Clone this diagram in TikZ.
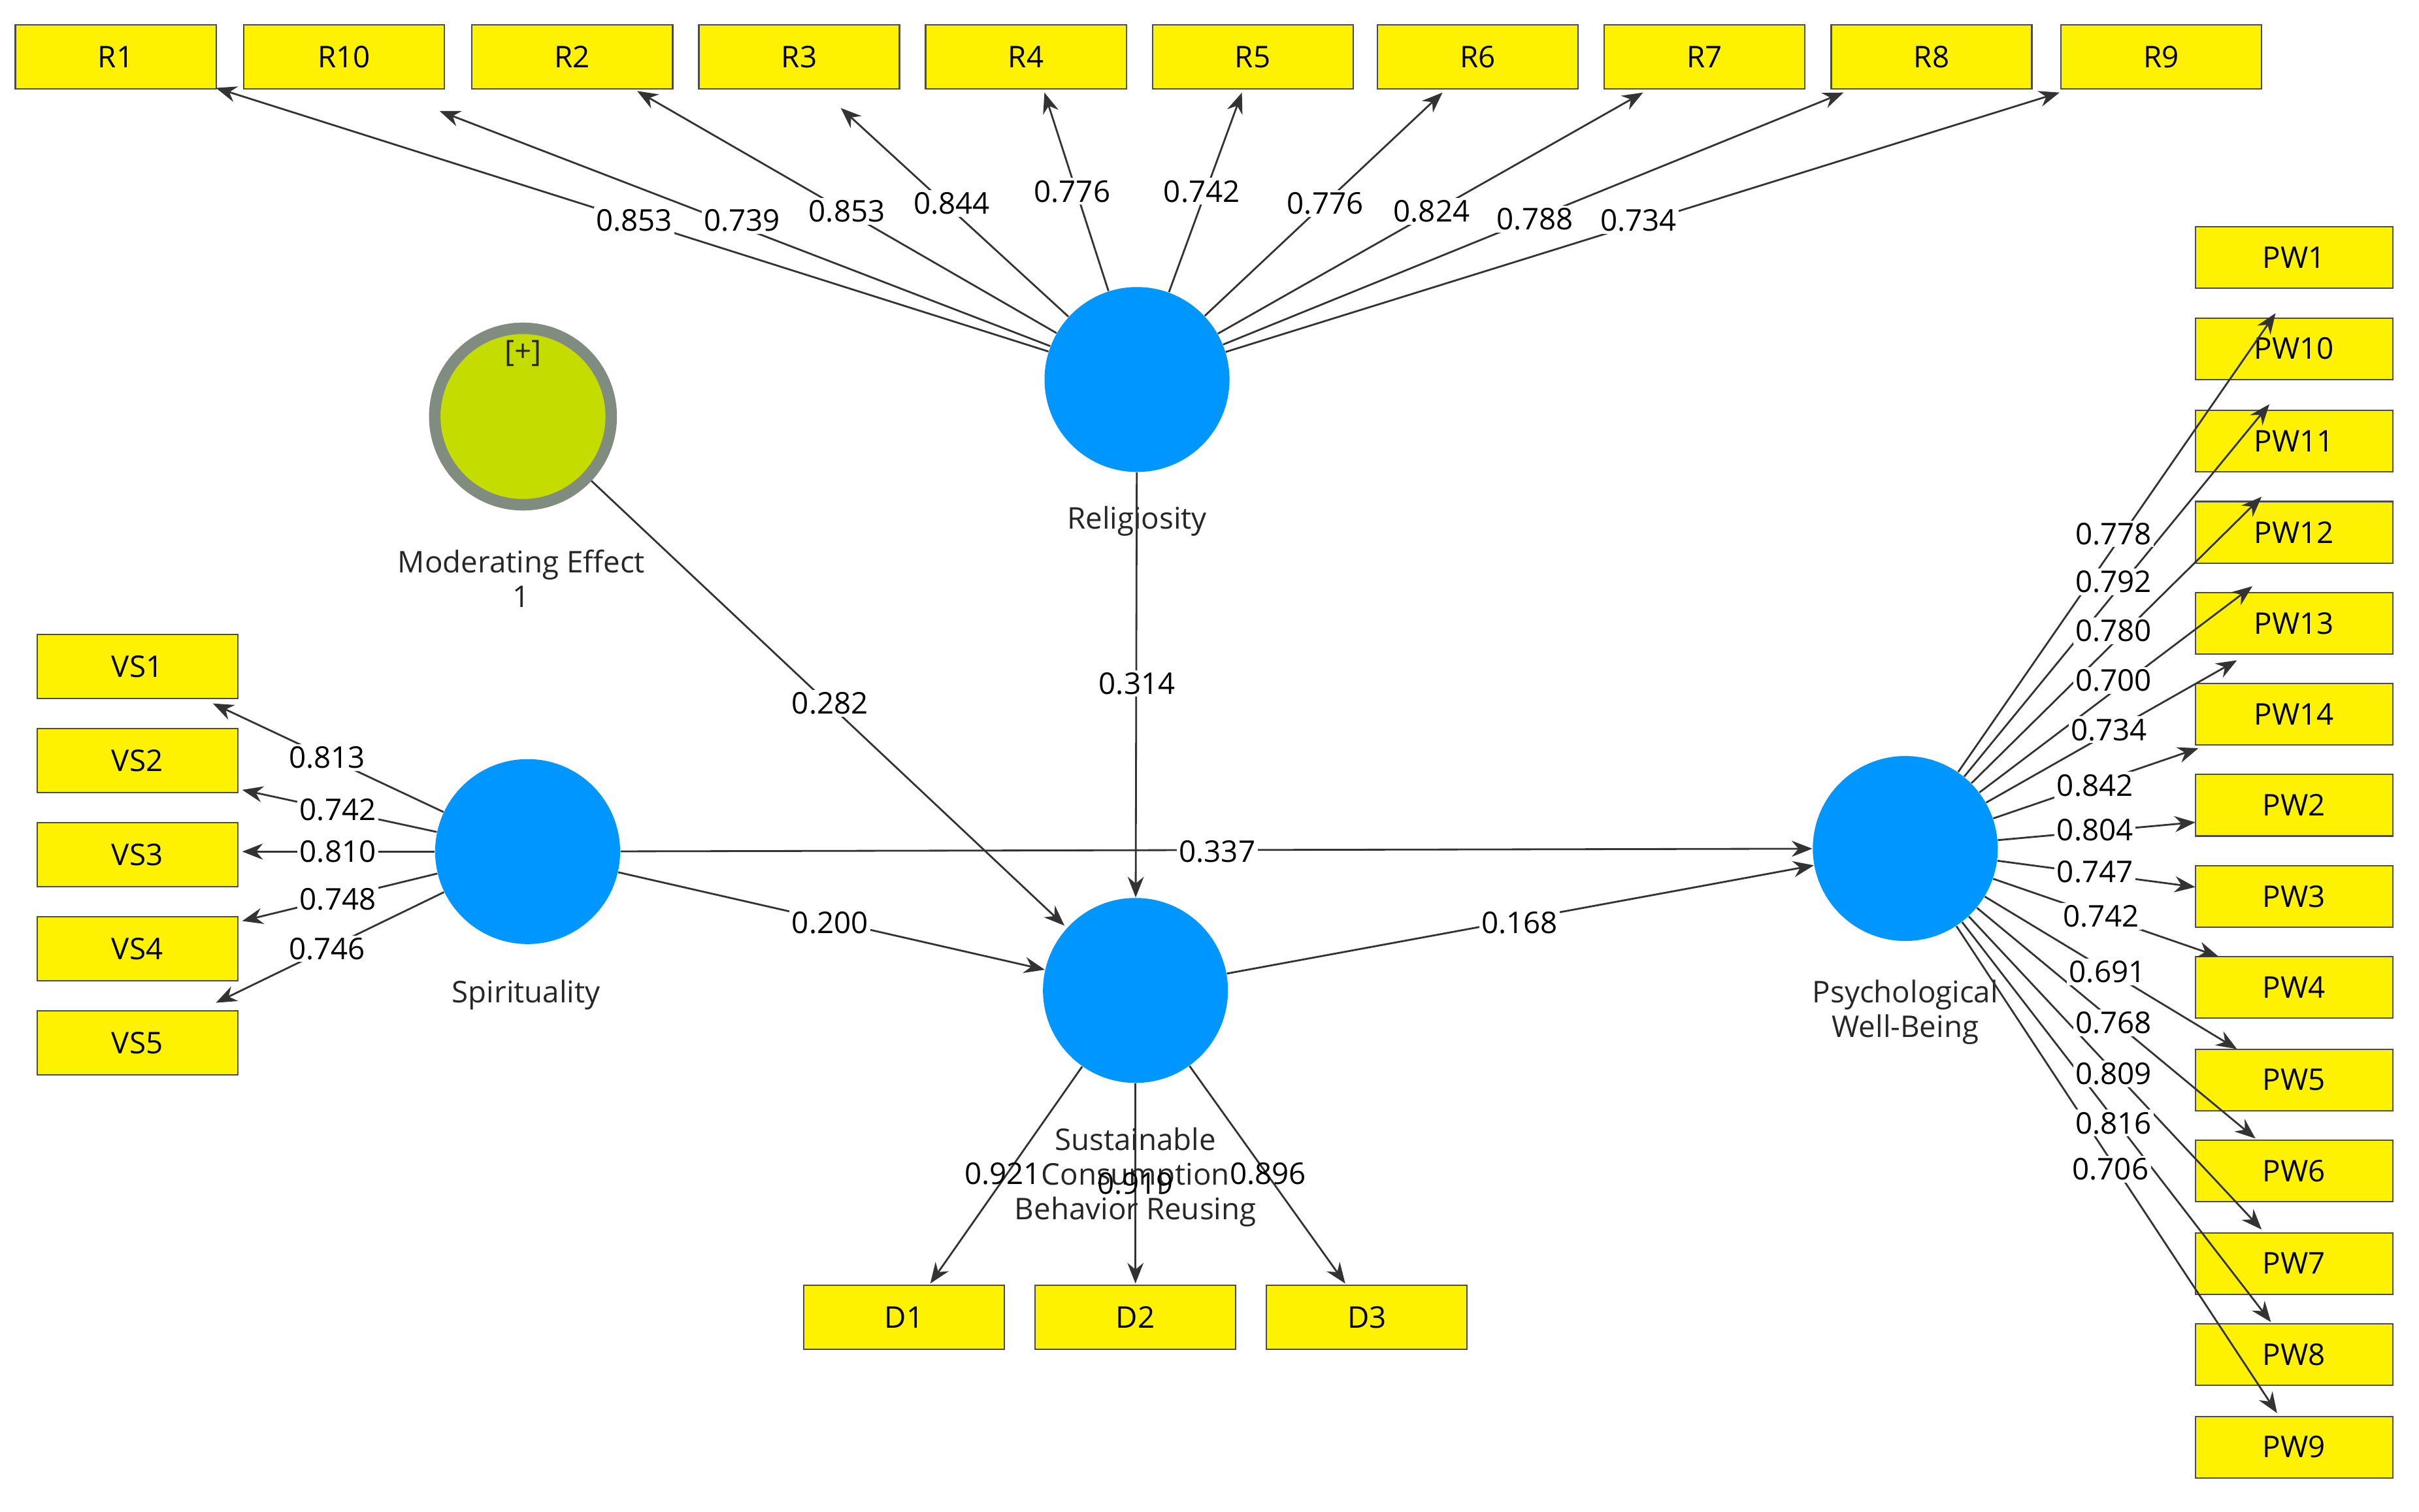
\documentclass[tikz,border=0pt]{standalone}
\usepackage{fontspec}
\setmainfont{Open Sans}
\usetikzlibrary{calc,arrows.meta}
\begin{document}
\begin{tikzpicture}[x=0.02361cm,y=-0.02361cm,
  font=\fontsize{13}{15}\selectfont,
  box/.style={draw=black!70,fill=yellow,line width=0.6pt,minimum width=130\pgflinewidth*0+3.07cm,minimum height=0.98cm,inner sep=0pt},
  lv/.style={circle,fill={rgb,255:red,0;green,150;blue,255},minimum size=2.83cm,inner sep=0pt},
  cn/.style={draw=black!80,line width=0.8pt,-{Stealth[length=9pt,width=7pt]}},
  lb/.style={fill=white,inner sep=1pt},
  tx/.style={align=center,text=black!85}]
\useasboundingbox (0,0) rectangle (1568,979.7);
% boxes R
\foreach \n/\x in {R1/75,R10/223,R2/371,R3/518,R4/665,R5/812,R6/958,R7/1105,R8/1252,R9/1401}
  \node[box] (\n) at (\x,37) {\n};
\foreach \n/\y in {VS1/432,VS2/493,VS3/554,VS4/615,VS5/676}
  \node[box] (\n) at (89,\y) {\n};
\foreach \n/\x in {D1/586,D2/736,D3/886}
  \node[box] (\n) at (\x,854) {\n};
\foreach \n/\y in {PW1/167,PW10/226,PW11/286,PW12/345,PW13/404,PW14/463,PW2/522,PW3/581,PW4/640,PW5/700,PW6/759,PW7/819,PW8/878,PW9/938}
  \node[box,minimum width=3.02cm,minimum height=0.94cm] (\n) at (1487,\y) {\n};
% latent variables
\node[lv] (rel) at (737,246) {};
\node[lv] (spi) at (342,552) {};
\node[lv] (scb) at (736,642) {};
\node[lv] (pwb) at (1235,550) {};
\node[circle,fill={rgb,255:red,196;green,220;blue,0},draw={rgb,255:red,128;green,140;blue,128},line width=5pt,minimum size=2.7cm,inner sep=0pt] (mod) at (339,270) {};
\node[tx] (modp) at (339,229) {[+]};
\node[tx] (relt) at (737,338) {Religiosity};
\node[tx] (modt) at (338,375) {Moderating Effect\\1};
\node[tx] (spit) at (341,645) {Spirituality};
\node[tx] (pwbt) at (1235,656) {Psychological\\Well-Being};
% R arrows
\foreach \n/\ex/\ey in {R1/65/20,R10/62/35,R2/42/22,R3/27/33,R4/12/23,R5/-7/23,R6/-23/23,R7/-40/23,R8/-57/23,R9/-66/23}
  \draw[cn] (rel) -- ($(\n)+(\ex,\ey)$);
\foreach \n/\ex/\ey in {VS1/49/24,VS2/68/19,VS3/68/-2,VS4/68/-18,VS5/51/-26}
  \draw[cn] (spi) -- ($(\n)+(\ex,\ey)$);
\foreach \n/\ex in {D1/17,D2/0,D3/-14}
  \draw[cn] (scb) -- ($(\n)+(\ex,-22)$);
\foreach \n/\ex/\ey in {PW1/-12/36,PW10/-16/36,PW11/-21/36,PW12/-27/35,PW13/-37/24,PW14/-62/22,PW2/-64/11,PW3/-64/-6,PW4/-49/-20,PW5/-37/-20,PW6/-25/-21,PW7/-21/-22,PW8/-15/-21,PW9/-11/-22}
  \draw[cn] (pwb) -- ($(\n)+(\ex,\ey)$);
\draw[cn] (mod) -- ($(scb)+(-46,-42)$);
\draw[cn] (rel) -- (scb);
\draw[cn] (spi) -- (pwb);
\draw[cn] (spi) -- (scb);
\draw[cn] (scb) -- (pwb);
\node[tx] (scbt) at (736,763) {Sustainable\\Consumption\\Behavior Reusing};
% labels
\foreach \v/\x/\y [count=\i] in {0.853/411/143,0.739/481/143,0.853/549/137,0.844/617/132,0.776/695/124,0.742/779/124,0.776/859/132,0.824/928/137,0.788/995/142,0.734/1062/143,
  0.813/212/491,0.742/219/525,0.810/219/552,0.748/219/583,0.746/212/615,
  0.282/538/456,0.314/737/443,0.337/789/552,0.200/538/598,0.168/985/598,
  0.778/1370/346,0.792/1370/377,0.780/1370/409,0.700/1370/441,0.734/1367/473,0.842/1358/509,0.804/1358/538,0.747/1358/565,0.742/1362/594,0.691/1366/630,0.768/1370/663,0.809/1370/696,0.816/1370/728,0.706/1368/758}
  \node[lb] (l\i) at (\x,\y) {\v};
\node[inner sep=1pt] (d1l) at (650,761) {0.921};
\node[inner sep=1pt] (d2l) at (736,767) {0.919};
\node[inner sep=1pt] (d3l) at (822,761) {0.896};
\end{tikzpicture}
\end{document}
